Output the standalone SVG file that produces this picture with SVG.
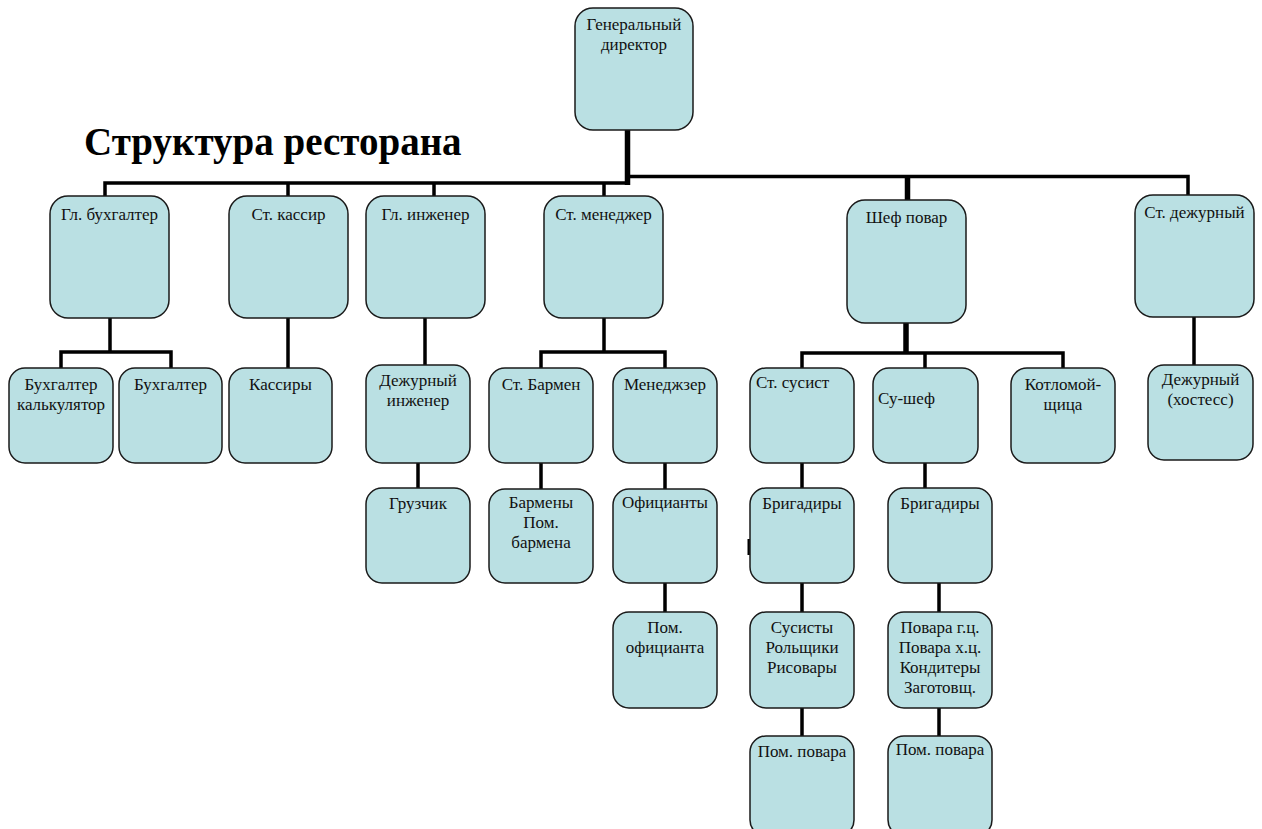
<svg xmlns="http://www.w3.org/2000/svg" width="1262" height="829" viewBox="0 0 1262 829">
<style>
.box{fill:#BAE0E3;stroke:#1a1a1a;stroke-width:1.5}
.t{font-family:"Liberation Serif","Times New Roman",serif;font-size:17px;fill:#111;text-anchor:middle}
.tl{text-anchor:start}
.c{fill:none;stroke:#000;stroke-width:3.5;stroke-linejoin:miter;stroke-linecap:butt}
.ck{fill:none;stroke:#000;stroke-width:5.5}
.title{font-family:"Liberation Serif","Times New Roman",serif;font-size:39px;font-weight:bold;fill:#000}
</style>
<rect width="1262" height="829" fill="#fff"/>
<text class="title" x="84" y="155">Структура ресторана</text>
<g id="connectors">
<path class="c" d="M627.5 176.5 H1188 V195"/>
<path class="c" d="M630 183 H105 V196"/>
<path class="c" d="M288 183 V196"/>
<path class="c" d="M434 183 V196"/>
<path class="c" d="M604 183 V196"/>
<path class="ck" d="M627.5 130 V185"/>
<path class="ck" d="M907.5 177 V200"/>
<path class="c" d="M110 318 V352 M61 368 V352 H171 V368"/>
<path class="c" d="M288 318 V368"/>
<path class="c" d="M425 318 V365"/>
<path class="c" d="M418 463 V488"/>
<path class="c" d="M604 318 V352 M541 368 V352 H665 V368"/>
<path class="c" d="M541 463 V489"/>
<path class="c" d="M665 463 V489 M665 583 V612"/>
<path class="ck" d="M906 323 V353"/>
<path class="c" d="M802 368 V353 H1063 V368 M925 353 V368"/>
<path class="c" d="M802 463 V488 M802 583 V612 M802 708 V736"/>
<path class="c" d="M925 463 V488 M939 583 V612 M939 708 V736"/>
<path class="c" d="M1194 317 V365"/>
<path class="c" d="M749 539 V555" style="stroke-width:3"/>
</g>
<g id="n-gendir"><rect class="box" x="575" y="8" width="118" height="122" rx="18"/><text class="t" x="634" y="30">Генеральный</text><text class="t" x="634" y="50">директор</text></g>
<g id="n-glbuh"><rect class="box" x="50" y="196" width="119" height="122" rx="18"/><text class="t" x="109.5" y="220">Гл. бухгалтер</text></g>
<g id="n-stkassir"><rect class="box" x="229" y="196" width="119" height="122" rx="18"/><text class="t" x="288.5" y="220">Ст. кассир</text></g>
<g id="n-glinzh"><rect class="box" x="366" y="196" width="119" height="122" rx="18"/><text class="t" x="425.5" y="220">Гл. инженер</text></g>
<g id="n-stmen"><rect class="box" x="544" y="196" width="119" height="122" rx="18"/><text class="t" x="603.5" y="220">Ст. менеджер</text></g>
<g id="n-shef"><rect class="box" x="847" y="200" width="119" height="123" rx="18"/><text class="t" x="906.5" y="223">Шеф повар</text></g>
<g id="n-stdezh"><rect class="box" x="1135" y="195" width="119" height="122" rx="18"/><text class="t" x="1194.5" y="218">Ст. дежурный</text></g>
<g id="n-buhkalk"><rect class="box" x="9" y="368" width="104" height="95" rx="16"/><text class="t" x="61" y="390">Бухгалтер</text><text class="t" x="61" y="410">калькулятор</text></g>
<g id="n-buh"><rect class="box" x="119" y="368" width="103" height="95" rx="16"/><text class="t" x="170.5" y="390">Бухгалтер</text></g>
<g id="n-kassiry"><rect class="box" x="229" y="368" width="103" height="95" rx="16"/><text class="t" x="280.5" y="390">Кассиры</text></g>
<g id="n-dezhinzh"><rect class="box" x="366" y="365" width="104" height="98" rx="16"/><text class="t" x="418" y="386">Дежурный</text><text class="t" x="418" y="406">инженер</text></g>
<g id="n-gruzchik"><rect class="box" x="366" y="488" width="104" height="95" rx="16"/><text class="t" x="418" y="509">Грузчик</text></g>
<g id="n-stbarmen"><rect class="box" x="489" y="368" width="104" height="95" rx="16"/><text class="t" x="541" y="390">Ст. Бармен</text></g>
<g id="n-menedzhzer"><rect class="box" x="613" y="368" width="104" height="95" rx="16"/><text class="t" x="665" y="390">Менеджзер</text></g>
<g id="n-barmeny"><rect class="box" x="489" y="489" width="104" height="94" rx="16"/><text class="t" x="541" y="508">Бармены</text><text class="t" x="541" y="528">Пом.</text><text class="t" x="541" y="548">бармена</text></g>
<g id="n-oficianty"><rect class="box" x="613" y="489" width="104" height="94" rx="16"/><text class="t" x="665" y="508">Официанты</text></g>
<g id="n-pomof"><rect class="box" x="613" y="612" width="104" height="96" rx="16"/><text class="t" x="665" y="633">Пом.</text><text class="t" x="665" y="653">официанта</text></g>
<g id="n-stsusist"><rect class="box" x="750" y="368" width="104" height="95" rx="16"/><text class="t tl" x="756" y="388">Ст. сусист</text></g>
<g id="n-sushef"><rect class="box" x="873" y="368" width="105" height="95" rx="16"/><text class="t tl" x="878" y="404">Су-шеф</text></g>
<g id="n-kotlomoi"><rect class="box" x="1011" y="368" width="104" height="95" rx="16"/><text class="t" x="1063" y="390">Котломой-</text><text class="t" x="1063" y="410">щица</text></g>
<g id="n-dezhhost"><rect class="box" x="1148" y="365" width="105" height="95" rx="16"/><text class="t" x="1200.5" y="385">Дежурный</text><text class="t" x="1200.5" y="405">(хостесс)</text></g>
<g id="n-brig1"><rect class="box" x="750" y="488" width="104" height="95" rx="16"/><text class="t" x="802" y="509">Бригадиры</text></g>
<g id="n-brig2"><rect class="box" x="888" y="488" width="104" height="95" rx="16"/><text class="t" x="940" y="509">Бригадиры</text></g>
<g id="n-susisty"><rect class="box" x="750" y="612" width="104" height="96" rx="16"/><text class="t" x="802" y="633">Сусисты</text><text class="t" x="802" y="653">Рольщики</text><text class="t" x="802" y="673">Рисовары</text></g>
<g id="n-povara"><rect class="box" x="888" y="612" width="104" height="96" rx="16"/><text class="t" x="940" y="633">Повара г.ц.</text><text class="t" x="940" y="653">Повара х.ц.</text><text class="t" x="940" y="673">Кондитеры</text><text class="t" x="940" y="693">Заготовщ.</text></g>
<g id="n-pompov1"><rect class="box" x="750" y="736" width="104" height="100" rx="16"/><text class="t" x="802" y="757">Пом. повара</text></g>
<g id="n-pompov2"><rect class="box" x="888" y="736" width="104" height="100" rx="16"/><text class="t" x="940" y="755">Пом. повара</text></g>
</svg>
